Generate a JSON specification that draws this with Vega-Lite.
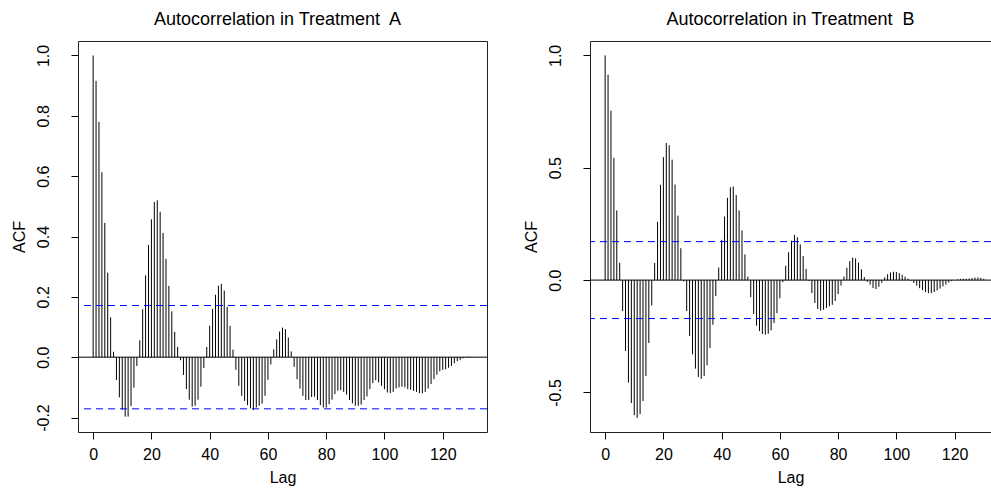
{
  "$schema": "https://vega.github.io/schema/vega-lite/v6.json",
  "padding": {"left": 10, "top": 10, "right": 0, "bottom": 0},
  "background": "white",
  "spacing": 34,
  "config": {
    "font": "Liberation Sans",
    "view": {"stroke": "#222", "strokeWidth": 1},
    "axis": {
      "grid": false,
      "domain": false,
      "tickColor": "black",
      "tickSize": 7,
      "labelColor": "black",
      "titleColor": "black",
      "labelFontSize": 16,
      "titleFontSize": 16,
      "titleFontWeight": "normal",
      "labelFlush": false,
      "labelOverlap": false
    },
    "axisX": {"labelPadding": 7, "titlePadding": 7},
    "axisY": {"labelAngle": 270, "labelAlign": "center", "labelBaseline": "bottom", "labelPadding": 20, "titlePadding": 8,
              "labelExpr": "datum.value < 0 ? '-' + format(-datum.value, '.1f') : format(datum.value, '.1f')"},
    "title": {"fontSize": 18, "fontWeight": "normal", "color": "black", "anchor": "middle", "frame": "group", "baseline": "alphabetic", "offset": 12}
  },
  "datasets": {
    "A": [
      {"lag":0,"acf":1.0},{"lag":1,"acf":0.916},{"lag":2,"acf":0.78},{"lag":3,"acf":0.613},{"lag":4,"acf":0.445},{"lag":5,"acf":0.28},{"lag":6,"acf":0.132},{"lag":7,"acf":0.018},{"lag":8,"acf":-0.076},{"lag":9,"acf":-0.133},
      {"lag":10,"acf":-0.175},{"lag":11,"acf":-0.197},{"lag":12,"acf":-0.197},{"lag":13,"acf":-0.162},{"lag":14,"acf":-0.101},{"lag":15,"acf":-0.029},{"lag":16,"acf":0.056},{"lag":17,"acf":0.159},{"lag":18,"acf":0.271},{"lag":19,"acf":0.372},
      {"lag":20,"acf":0.457},{"lag":21,"acf":0.514},{"lag":22,"acf":0.52},{"lag":23,"acf":0.482},{"lag":24,"acf":0.412},{"lag":25,"acf":0.326},{"lag":26,"acf":0.236},{"lag":27,"acf":0.152},{"lag":28,"acf":0.084},{"lag":29,"acf":0.034},
      {"lag":30,"acf":-0.01},{"lag":31,"acf":-0.059},{"lag":32,"acf":-0.106},{"lag":33,"acf":-0.141},{"lag":34,"acf":-0.164},{"lag":35,"acf":-0.161},{"lag":36,"acf":-0.141},{"lag":37,"acf":-0.098},{"lag":38,"acf":-0.036},{"lag":39,"acf":0.034},
      {"lag":40,"acf":0.104},{"lag":41,"acf":0.16},{"lag":42,"acf":0.207},{"lag":43,"acf":0.237},{"lag":44,"acf":0.243},{"lag":45,"acf":0.221},{"lag":46,"acf":0.167},{"lag":47,"acf":0.104},{"lag":48,"acf":0.025},{"lag":49,"acf":-0.042},
      {"lag":50,"acf":-0.095},{"lag":51,"acf":-0.128},{"lag":52,"acf":-0.145},{"lag":53,"acf":-0.159},{"lag":54,"acf":-0.17},{"lag":55,"acf":-0.175},{"lag":56,"acf":-0.167},{"lag":57,"acf":-0.161},{"lag":58,"acf":-0.154},{"lag":59,"acf":-0.128},
      {"lag":60,"acf":-0.075},{"lag":61,"acf":-0.024},{"lag":62,"acf":0.026},{"lag":63,"acf":0.059},{"lag":64,"acf":0.085},{"lag":65,"acf":0.098},{"lag":66,"acf":0.093},{"lag":67,"acf":0.065},{"lag":68,"acf":0.019},{"lag":69,"acf":-0.032},
      {"lag":70,"acf":-0.073},{"lag":71,"acf":-0.104},{"lag":72,"acf":-0.128},{"lag":73,"acf":-0.142},{"lag":74,"acf":-0.142},{"lag":75,"acf":-0.132},{"lag":76,"acf":-0.131},{"lag":77,"acf":-0.142},{"lag":78,"acf":-0.159},{"lag":79,"acf":-0.167},
      {"lag":80,"acf":-0.167},{"lag":81,"acf":-0.156},{"lag":82,"acf":-0.141},{"lag":83,"acf":-0.122},{"lag":84,"acf":-0.111},{"lag":85,"acf":-0.109},{"lag":86,"acf":-0.115},{"lag":87,"acf":-0.124},{"lag":88,"acf":-0.142},{"lag":89,"acf":-0.153},
      {"lag":90,"acf":-0.161},{"lag":91,"acf":-0.161},{"lag":92,"acf":-0.157},{"lag":93,"acf":-0.142},{"lag":94,"acf":-0.13},{"lag":95,"acf":-0.106},{"lag":96,"acf":-0.086},{"lag":97,"acf":-0.076},{"lag":98,"acf":-0.084},{"lag":99,"acf":-0.095},
      {"lag":100,"acf":-0.106},{"lag":101,"acf":-0.117},{"lag":102,"acf":-0.119},{"lag":103,"acf":-0.115},{"lag":104,"acf":-0.104},{"lag":105,"acf":-0.1},{"lag":106,"acf":-0.098},{"lag":107,"acf":-0.1},{"lag":108,"acf":-0.106},{"lag":109,"acf":-0.108},
      {"lag":110,"acf":-0.112},{"lag":111,"acf":-0.115},{"lag":112,"acf":-0.119},{"lag":113,"acf":-0.12},{"lag":114,"acf":-0.115},{"lag":115,"acf":-0.104},{"lag":116,"acf":-0.089},{"lag":117,"acf":-0.073},{"lag":118,"acf":-0.058},{"lag":119,"acf":-0.047},
      {"lag":120,"acf":-0.042},{"lag":121,"acf":-0.04},{"lag":122,"acf":-0.035},{"lag":123,"acf":-0.029},{"lag":124,"acf":-0.02},{"lag":125,"acf":-0.013},{"lag":126,"acf":-0.009},{"lag":127,"acf":-0.004},{"lag":128,"acf":-0.002},{"lag":129,"acf":0.002},
      {"lag":130,"acf":0.001}
    ],
    "B": [
      {"lag":0,"acf":1.0},{"lag":1,"acf":0.914},{"lag":2,"acf":0.754},{"lag":3,"acf":0.544},{"lag":4,"acf":0.31},{"lag":5,"acf":0.077},{"lag":6,"acf":-0.138},{"lag":7,"acf":-0.316},{"lag":8,"acf":-0.456},{"lag":9,"acf":-0.547},
      {"lag":10,"acf":-0.601},{"lag":11,"acf":-0.613},{"lag":12,"acf":-0.597},{"lag":13,"acf":-0.538},{"lag":14,"acf":-0.427},{"lag":15,"acf":-0.28},{"lag":16,"acf":-0.113},{"lag":17,"acf":0.076},{"lag":18,"acf":0.259},{"lag":19,"acf":0.424},
      {"lag":20,"acf":0.547},{"lag":21,"acf":0.61},{"lag":22,"acf":0.6},{"lag":23,"acf":0.536},{"lag":24,"acf":0.425},{"lag":25,"acf":0.287},{"lag":26,"acf":0.142},{"lag":27,"acf":-0.006},{"lag":28,"acf":-0.138},{"lag":29,"acf":-0.249},
      {"lag":30,"acf":-0.33},{"lag":31,"acf":-0.394},{"lag":32,"acf":-0.431},{"lag":33,"acf":-0.439},{"lag":34,"acf":-0.427},{"lag":35,"acf":-0.379},{"lag":36,"acf":-0.302},{"lag":37,"acf":-0.199},{"lag":38,"acf":-0.071},{"lag":39,"acf":0.056},
      {"lag":40,"acf":0.179},{"lag":41,"acf":0.283},{"lag":42,"acf":0.366},{"lag":43,"acf":0.413},{"lag":44,"acf":0.416},{"lag":45,"acf":0.379},{"lag":46,"acf":0.31},{"lag":47,"acf":0.221},{"lag":48,"acf":0.114},{"lag":49,"acf":0.015},
      {"lag":50,"acf":-0.076},{"lag":51,"acf":-0.151},{"lag":52,"acf":-0.203},{"lag":53,"acf":-0.227},{"lag":54,"acf":-0.24},{"lag":55,"acf":-0.243},{"lag":56,"acf":-0.239},{"lag":57,"acf":-0.224},{"lag":58,"acf":-0.191},{"lag":59,"acf":-0.147},
      {"lag":60,"acf":-0.081},{"lag":61,"acf":-0.009},{"lag":62,"acf":0.064},{"lag":63,"acf":0.124},{"lag":64,"acf":0.175},{"lag":65,"acf":0.201},{"lag":66,"acf":0.191},{"lag":67,"acf":0.159},{"lag":68,"acf":0.107},{"lag":69,"acf":0.05},
      {"lag":70,"acf":-0.004},{"lag":71,"acf":-0.058},{"lag":72,"acf":-0.102},{"lag":73,"acf":-0.129},{"lag":74,"acf":-0.136},{"lag":75,"acf":-0.132},{"lag":76,"acf":-0.124},{"lag":77,"acf":-0.117},{"lag":78,"acf":-0.11},{"lag":79,"acf":-0.093},
      {"lag":80,"acf":-0.062},{"lag":81,"acf":-0.024},{"lag":82,"acf":0.016},{"lag":83,"acf":0.055},{"lag":84,"acf":0.084},{"lag":85,"acf":0.1},{"lag":86,"acf":0.097},{"lag":87,"acf":0.078},{"lag":88,"acf":0.048},{"lag":89,"acf":0.013},
      {"lag":90,"acf":-0.008},{"lag":91,"acf":-0.02},{"lag":92,"acf":-0.035},{"lag":93,"acf":-0.04},{"lag":94,"acf":-0.03},{"lag":95,"acf":-0.012},{"lag":96,"acf":0.012},{"lag":97,"acf":0.026},{"lag":98,"acf":0.034},{"lag":99,"acf":0.037},
      {"lag":100,"acf":0.036},{"lag":101,"acf":0.031},{"lag":102,"acf":0.024},{"lag":103,"acf":0.015},{"lag":104,"acf":0.006},{"lag":105,"acf":-0.003},{"lag":106,"acf":-0.013},{"lag":107,"acf":-0.025},{"lag":108,"acf":-0.036},{"lag":109,"acf":-0.045},
      {"lag":110,"acf":-0.053},{"lag":111,"acf":-0.058},{"lag":112,"acf":-0.058},{"lag":113,"acf":-0.053},{"lag":114,"acf":-0.046},{"lag":115,"acf":-0.038},{"lag":116,"acf":-0.028},{"lag":117,"acf":-0.02},{"lag":118,"acf":-0.011},{"lag":119,"acf":-0.005},
      {"lag":120,"acf":0.0},{"lag":121,"acf":0.003},{"lag":122,"acf":0.005},{"lag":123,"acf":0.006},{"lag":124,"acf":0.006},{"lag":125,"acf":0.007},{"lag":126,"acf":0.009},{"lag":127,"acf":0.011},{"lag":128,"acf":0.012},{"lag":129,"acf":0.01},
      {"lag":130,"acf":0.006}
    ],
    "ci": [{"v": 0.1712}, {"v": -0.1712}]
  },
  "hconcat": [
    {
      "title": {"text": "Autocorrelation in Treatment\u00a0 A", "dx": -5},
      "width": 409,
      "height": 391,
      "layer": [
        {
          "data": {"name": "A"},
          "mark": {"type": "rule", "color": "black", "strokeWidth": 1},
          "encoding": {
            "x": {"field": "lag", "type": "quantitative", "scale": {"domain": [-5.2, 135.2], "nice": false, "zero": false},
                  "axis": {"values": [0, 20, 40, 60, 80, 100, 120], "title": "Lag"}},
            "y": {"field": "acf", "type": "quantitative", "scale": {"domain": [-0.248, 1.048], "nice": false},
                  "axis": {"values": [-0.2, 0, 0.2, 0.4, 0.6, 0.8, 1.0], "title": "ACF"}},
            "y2": {"datum": 0}
          }
        },
        {
          "data": {"values": [{"v": 0}]},
          "mark": {"type": "rule", "color": "black", "strokeWidth": 1},
          "encoding": {"y": {"field": "v", "type": "quantitative"}}
        },
        {
          "data": {"name": "ci"},
          "mark": {"type": "rule", "color": "#0000ff", "strokeWidth": 1, "strokeDash": [7, 5]},
          "encoding": {"y": {"field": "v", "type": "quantitative"}}
        }
      ]
    },
    {
      "title": {"text": "Autocorrelation in Treatment\u00a0 B"},
      "width": 401,
      "height": 391,
      "view": {"stroke": null},
      "resolve": {"axis": {"x": "independent"}},
      "layer": [
        {
          "data": {"name": "B"},
          "mark": {"type": "rule", "color": "black", "strokeWidth": 1},
          "encoding": {
            "x": {"field": "lag", "type": "quantitative", "scale": {"domain": [-5.2, 132.5], "nice": false, "zero": false},
                  "axis": {"orient": "bottom", "values": [0, 20, 40, 60, 80, 100, 120], "title": "Lag", "domain": true, "domainColor": "#222"}},
            "y": {"field": "acf", "type": "quantitative", "scale": {"domain": [-0.676, 1.064], "nice": false},
                  "axis": {"values": [-0.5, 0, 0.5, 1.0], "title": "ACF", "domain": true, "domainColor": "#222"}},
            "y2": {"datum": 0}
          }
        },
        {
          "data": {"name": "ci"},
          "mark": {"type": "rule", "color": "#0000ff", "strokeWidth": 1, "strokeDash": [7, 5]},
          "encoding": {"y": {"field": "v", "type": "quantitative"}}
        },
        {
          "data": {"values": [{"v": 0}]},
          "mark": {"type": "rule", "color": "black", "strokeWidth": 1},
          "encoding": {
            "x": {"datum": -5.2, "type": "quantitative",
                  "axis": {"orient": "top", "labels": false, "ticks": false, "title": null, "domain": true, "domainColor": "#222"}},
            "x2": {"datum": 132.5},
            "y": {"field": "v", "type": "quantitative"}
          }
        }
      ]
    }
  ]
}
